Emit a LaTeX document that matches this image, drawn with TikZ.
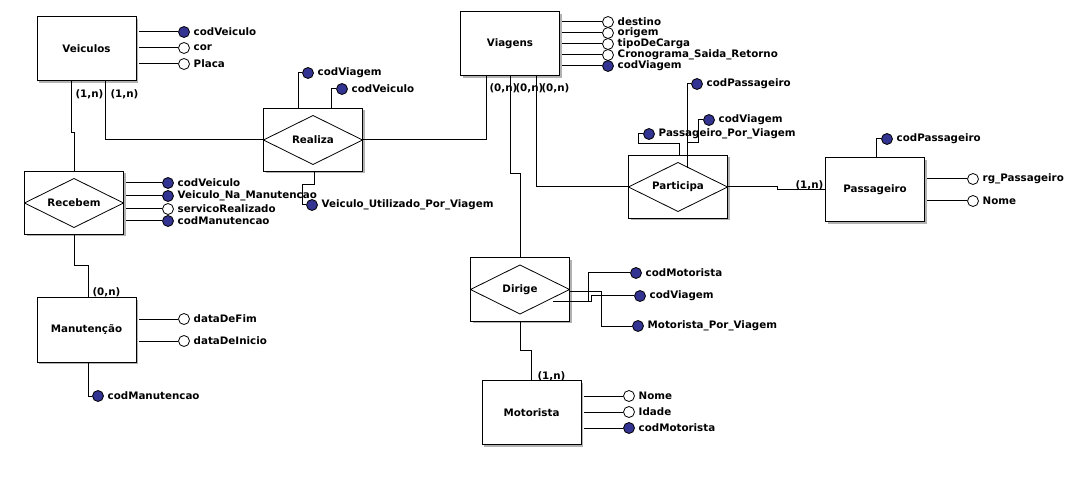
\documentclass[tikz,border=0pt]{standalone}
\usepackage{fontspec}
\setmainfont{DejaVu Sans}
\usetikzlibrary{positioning,shadows}
\definecolor{chaveazul}{RGB}{51,51,145}

\tikzset{
  entidade/.style={draw,line width=1pt,fill=white,minimum width=99pt,minimum height=64pt,
    drop shadow={shadow xshift=2pt,shadow yshift=-2pt,fill=gray!60,opacity=1}},
  relacao/.style={entidade,minimum height=63pt,
    path picture={\draw[line width=0.8pt] ([yshift=-7pt]path picture bounding box.north)
      -- (path picture bounding box.east) -- ([yshift=7pt]path picture bounding box.south)
      -- (path picture bounding box.west) -- cycle;}},
  atributo/.style={circle,draw,line width=0.8pt,fill=white,minimum size=11pt,inner sep=0pt,label distance=0.5pt},
  chave/.style={atributo,fill=chaveazul},
  card/.style={inner sep=0pt,anchor=west}
}

\begin{document}
\begin{tikzpicture}[x=1pt,y=-1pt,line width=1pt,font=\bfseries\fontsize{10.3}{12}\selectfont]
\useasboundingbox (0,0) rectangle (1077,497);

% entidades
\node[entidade] (veiculos) at (86.5,49) {Veiculos};
\node[entidade] (viagens) at (510,44) {Viagens};
\node[entidade] (passageiro) at (875,190) {Passageiro};
\node[entidade] (manutencao) at (86.5,330) {Manutenção};
\node[entidade] (motorista) at (531.5,412.5) {Motorista};

% relacionamentos
\node[relacao] (realiza) at (313,140) {Realiza};
\node[relacao] (recebem) at (74,203) {Recebem};
\node[relacao] (participa) at (678,187) {Participa};
\node[relacao] (dirige) at (520,289.5) {Dirige};

% atributos
\node[chave,label=right:codVeiculo] (ve1) at (184,32) {};
\node[atributo,label=right:cor] (ve2) at (184,48) {};
\node[atributo,label=right:Placa] (ve3) at (184,64) {};

\node[atributo,label=right:destino] (vi1) at (608,22) {};
\node[atributo,label=right:origem] (vi2) at (608,33) {};
\node[atributo,label=right:tipoDeCarga] (vi3) at (608,44) {};
\node[atributo,label=right:Cronograma\_Saida\_Retorno] (vi4) at (608,55) {};
\node[chave,label=right:codViagem] (vi5) at (608,66) {};

\node[chave,label=right:codViagem] (rz1) at (308,73) {};
\node[chave,label=right:codVeiculo] (rz2) at (342,89) {};
\node[chave,label=right:Veiculo\_Utilizado\_Por\_Viagem] (rz3) at (312,205) {};

\node[chave,label=right:codVeiculo] (rc1) at (168,183) {};
\node[chave,label=right:Veiculo\_Na\_Manutencao] (rc2) at (168,196) {};
\node[atributo,label=right:servicoRealizado] (rc3) at (168,209) {};
\node[chave,label=right:codManutencao] (rc4) at (168,221) {};

\node[atributo,label=right:dataDeFim] (mt1) at (184,319) {};
\node[atributo,label=right:dataDeInicio] (mt2) at (184,341) {};
\node[chave,label=right:codManutencao] (mt3) at (98,396) {};

\node[chave,label=right:Passageiro\_Por\_Viagem] (pa1) at (649,134) {};
\node[chave,label=right:codPassageiro] (pa2) at (697,84) {};
\node[chave,label=right:codViagem] (pa3) at (709,120) {};

\node[chave,label=right:codPassageiro] (ps1) at (887,139) {};
\node[atributo,label=right:rg\_Passageiro] (ps2) at (973,179) {};
\node[atributo,label=right:Nome] (ps3) at (973,201) {};

\node[chave,label=right:codMotorista] (dg1) at (636,273) {};
\node[chave,label=right:codViagem] (dg2) at (640,296) {};
\node[chave,label=right:Motorista\_Por\_Viagem] (dg3) at (638,326) {};

\node[atributo,label=right:Nome] (mo1) at (629,396) {};
\node[atributo,label=right:Idade] (mo2) at (629,412) {};
\node[chave,label=right:codMotorista] (mo3) at (629,428) {};

% cardinalidades
\node[card] (cve1) at (75,94) {(1,n)};
\node[card] (cve2) at (110,94) {(1,n)};
\node[card] (cvi1) at (489,88) {(0,n)};
\node[card] (cvi2) at (515,88) {(0,n)};
\node[card] (cvi3) at (541,88) {(0,n)};
\node[card] (cps) at (795,185) {(1,n)};
\node[card] (cmt) at (92,292) {(0,n)};
\node[card] (cmo) at (537,376) {(1,n)};

% ligacoes
\draw ([xshift=-15.5pt]veiculos.south) -- ++(0,51) -| (recebem.north);
\draw ([xshift=18.5pt]veiculos.south) |- (realiza.west);
\draw (realiza.east) -| ([xshift=-24pt]viagens.south);
\draw (viagens.south) -- ++(0,97) -| (dirige.north);
\draw ([xshift=26pt]viagens.south) |- (participa.west);
\draw (participa.east) -- ++(49,0) |- (passageiro.west);
\draw (recebem.south) -- ++(0,31) -| ([xshift=1.5pt]manutencao.north);
\draw (dirige.south) -- ++(0,29) -| (motorista.north);

% ligacoes dos atributos
\draw ([xshift=2pt]veiculos.east |- ve1) -- (ve1.west);
\draw ([xshift=2pt]veiculos.east |- ve2) -- (ve2.west);
\draw ([xshift=2pt]veiculos.east |- ve3) -- (ve3.west);

\draw ([xshift=2pt]viagens.east |- vi1) -- (vi1.west);
\draw ([xshift=2pt]viagens.east |- vi2) -- (vi2.west);
\draw ([xshift=2pt]viagens.east |- vi3) -- (vi3.west);
\draw ([xshift=2pt]viagens.east |- vi4) -- (vi4.west);
\draw ([xshift=2pt]viagens.east |- vi5) -- (vi5.west);

\draw ([xshift=-15pt]realiza.north) |- (rz1.west);
\draw ([xshift=18pt]realiza.north) |- (rz2.west);
\draw ([xshift=1pt]realiza.south) -- ++(0,13) -- ++(-12,0) |- (rz3.west);

\draw ([xshift=2pt]recebem.east |- rc1) -- (rc1.west);
\draw ([xshift=2pt]recebem.east |- rc2) -- (rc2.west);
\draw ([xshift=2pt]recebem.east |- rc3) -- (rc3.west);
\draw ([xshift=2pt]recebem.east |- rc4) -- (rc4.west);

\draw ([xshift=2pt]manutencao.east |- mt1) -- (mt1.west);
\draw ([xshift=2pt]manutencao.east |- mt2) -- (mt2.west);
\draw ([xshift=1.5pt]manutencao.south) |- (mt3.west);

\draw ([xshift=1pt]participa.north) -- ++(0,-11) -- ++(-41,0) |- (pa1.west);
\draw ([shift={(9,-19)}]participa.center) |- (pa2.west);
\draw ([shift={(10,-44)}]participa.center) -- ++(10,0) |- (pa3.west);

\draw ([xshift=1pt]passageiro.north) |- (ps1.west);
\draw ([xshift=2pt]passageiro.east |- ps2) -- (ps2.west);
\draw ([xshift=2pt]passageiro.east |- ps3) -- (ps3.west);

\draw ([shift={(33,12.5)}]dirige.center) -- ++(35,0) |- (dg1.west);
\draw ([shift={(68,12.5)}]dirige.center) -- ++(3,0) |- (dg2.west);
\draw ([yshift=-2.5pt]dirige.east) -- ++(31,0) |- (dg3.west);

\draw ([xshift=2pt]motorista.east |- mo1) -- (mo1.west);
\draw ([xshift=2pt]motorista.east |- mo2) -- (mo2.west);
\draw ([xshift=2pt]motorista.east |- mo3) -- (mo3.west);
\end{tikzpicture}
\end{document}
